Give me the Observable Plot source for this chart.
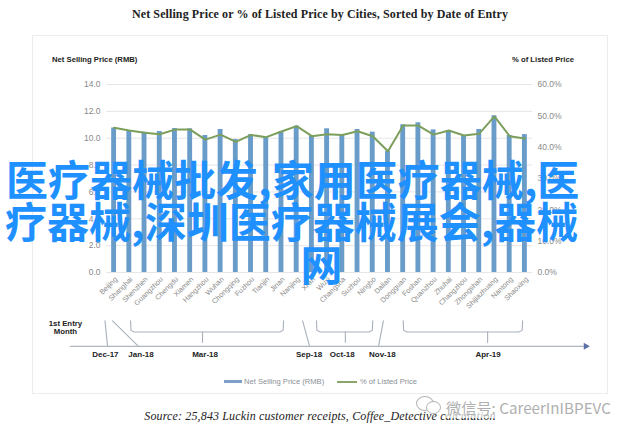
<!DOCTYPE html>
<html><head><meta charset="utf-8">
<script src="https://cdn.jsdelivr.net/npm/d3@7"></script>
<script src="https://cdn.jsdelivr.net/npm/@observablehq/plot@0.6"></script>
<style>
html,body{margin:0;padding:0;background:#fff;}
#page{position:relative;width:640px;height:433px;overflow:hidden;font-family:"Liberation Sans",sans-serif;}
#card{position:absolute;left:32px;top:35px;width:574px;height:357px;border:1px solid #ececec;box-sizing:content-box;}
#chart{position:absolute;left:0;top:0;}
.t{position:absolute;white-space:nowrap;line-height:1;}
#title{left:0;width:640px;text-align:center;top:7px;font:bold 12px "Liberation Serif",serif;color:#222;letter-spacing:.1px;}
#source{left:0;width:640px;text-align:center;top:409px;font:italic 12px "Liberation Serif",serif;color:#222;letter-spacing:.14px;}
.head{font:bold 7.7px "Liberation Sans",sans-serif;color:#222;top:55px;}
.leg{font:7.6px "Liberation Sans",sans-serif;color:#8a8f96;top:377px;}
.swatch{position:absolute;}
.banner{position:absolute;white-space:nowrap;font:bold 42px/42px "Noto Sans CJK SC",sans-serif;color:#1e90ff;}
#mark{left:446px;top:396px;font:15.2px "Noto Sans CJK SC",sans-serif;color:#b0b0b0;background:rgba(255,255,255,.7);}
.bub{position:absolute;border:1px solid #b5b5b5;border-radius:50%;background:#fff;}
</style></head>
<body><div id="page">
<div id="card"></div>
<div id="chart"></div>
<div class="t" id="title">Net Selling Price or % of Listed Price by Cities, Sorted by Date of Entry</div>
<div class="t head" style="left:52px">Net Selling Price (RMB)</div>
<div class="t head" style="left:512px">% of Listed Price</div>
<div class="swatch" style="left:224px;top:380px;width:18px;height:3px;background:#7d9fc8"></div>
<div class="t leg" style="left:244px">Net Selling Price (RMB)</div>
<div class="swatch" style="left:337px;top:380.5px;width:20px;height:2px;background:#8aa56e"></div>
<div class="t leg" style="left:360px">% of Listed Price</div>
<div class="t" id="source">Source: 25,843 Luckin customer receipts, Coffee_Detective calculation</div>
<div class="banner" style="left:6px;top:157px">医疗器械批发,家用医疗器械,医</div>
<div class="banner" style="left:5px;top:199px">疗器械,深圳医疗器械展会,器械</div>
<div class="banner" style="left:300.5px;top:242px">网</div>
<div class="bub" style="left:416px;top:396px;width:16px;height:13px"></div>
<div class="bub" style="left:426px;top:401px;width:13px;height:11px"></div>
<div class="t" id="mark">微信号: CareerInIBPEVC</div>
</div>
<script>
const cities = ["Beijing","Shanghai","Shenzhen","Guangzhou","Chengdu","Xiamen","Hangzhou","Wuhan","Chongqing","Fuzhou","Tianjin","Jinan","Nanjing","Xi'an","Wuxi","Changsha","Suzhou","Ningbo","Dalian","Dongguan","Foshan","Quanzhou","Zhuhai","Changzhou","Zhongshan","Shijiazhuang","Nantong","Shaoxing"];
const netPrice = [10.76,10.57,10.45,10.5,10.72,10.7,10.2,10.65,9.9,10.27,10.07,10.5,10.9,10.15,10.7,10.27,10.65,10.45,9.03,11.0,11.15,10.62,10.57,10.15,10.65,11.67,10.2,10.27];
const pctListed = [46.2,45.3,44.6,44.1,45.6,45.6,42.4,44.0,41.7,43.9,43.2,45.0,46.7,43.5,44.1,43.9,45.1,43.5,38.7,46.9,46.9,44.0,45.3,43.7,44.3,49.8,43.5,42.8];
const leftTicks = [0,2,4,6,8,10,12,14];
const rightTicks = [0,10,20,30,40,50,60];
const entryLabels = ["Dec-17","Jan-18","Mar-18","Sep-18","Oct-18","Nov-18","Apr-19"];
const entryPos = [-0.57,1.77,5.98,12.81,15.0,17.63,24.58];
const brackets = [[1.08,11.14,5.81],[13.3,17.0,15.2],[19.0,26.85,24.55]];
const leaders = [[-0.6,-0.43],[-0.1,1.6],[12.39,12.85],[17.7,17.38]];
const toLeft = p => p*14/60;
const rows = cities.map((c,i)=>({c,i,price:netPrice[i],pct:toLeft(pctListed[i])}));
const bTop=-3.6, bBot=-4.43, spike=-5.2, axisV=-5.5;
const annoColor="#a9b0bc";
const bracketLines = brackets.flatMap(([a,b,m],k)=>[
  {k:`b${k}`,x:a,y:bTop},{k:`b${k}`,x:a+.03,y:bBot+.12},{k:`b${k}`,x:a+.25,y:bBot},{k:`b${k}`,x:b-.25,y:bBot},{k:`b${k}`,x:b-.03,y:bBot+.12},{k:`b${k}`,x:b,y:bTop},
  {k:`s${k}`,x:m,y:bBot},{k:`s${k}`,x:m,y:spike}]);
const leaderLines = leaders.flatMap(([a,b],k)=>[{k:`l${k}`,x:a,y:bTop},{k:`l${k}`,x:b,y:axisV}]);
const plot = Plot.plot({
  width:640,height:433,marginLeft:106,marginRight:108,marginTop:84,marginBottom:161,
  style:{background:"transparent",fontFamily:"Liberation Sans"},
  x:{domain:[-0.5,27.5],axis:null},
  y:{domain:[0,14],axis:null},
  marks:[
    Plot.ruleY(leftTicks,{stroke:"#e6e6e6",strokeWidth:1}),
    Plot.rectY(rows,{x1:d=>d.i-.16,x2:d=>d.i+.16,y1:0,y2:"price",fill:"#6a9cc9"}),
    Plot.line(rows,{x:"i",y:"pct",stroke:"#7c9f5c",strokeWidth:2}),
    Plot.axisY(leftTicks,{anchor:"left",tickSize:0,tickPadding:6,label:null,fontSize:8.5,color:"#8a8a8a",tickFormat:d=>d.toFixed(1)}),
    Plot.axisY(rightTicks.map(toLeft),{anchor:"right",tickSize:0,tickPadding:5,label:null,fontSize:8.5,color:"#8a8a8a",tickFormat:d=>(d*60/14).toFixed(1)+"%"}),
    Plot.text(rows,{x:"i",y:-0.42,text:"c",rotate:-45,textAnchor:"end",fontSize:7.2,fill:"#8a8a8a",dx:2}),
    Plot.line(bracketLines,{x:"x",y:"y",z:"k",stroke:annoColor,strokeWidth:1.1}),
    Plot.line(leaderLines,{x:"x",y:"y",z:"k",stroke:annoColor,strokeWidth:1.1}),
    Plot.ruleY([axisV],{x1:-2.87,x2:30.9,stroke:"#b0b5c0",strokeWidth:1.3}),
    Plot.dot([{x:31,y:axisV}],{x:"x",y:"y",symbol:"triangle",r:2.6,rotate:90,fill:"#5a6fa8"}),
    Plot.text(entryLabels,{x:(d,i)=>entryPos[i],y:-6.1,text:d=>d,fontSize:8,fontWeight:"bold",fill:"#222"}),
    Plot.text(["1st Entry","Month"],{x:-3.2,y:(d,i)=>[-3.8,-4.42][i],text:d=>d,fontSize:7.8,fontWeight:"bold",fill:"#222"})
  ]
});
document.getElementById("chart").append(plot);
</script>
</body></html>
